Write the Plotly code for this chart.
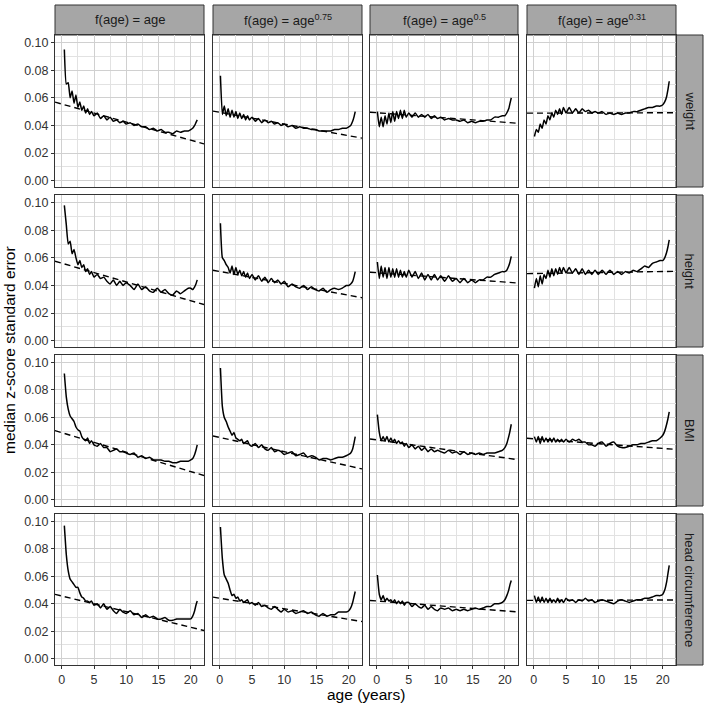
import plotly.graph_objects as go

# ---------------- data ----------------
age = [0.1, 0.4, 0.7, 1.0, 1.3, 1.6, 1.9, 2.2, 2.5, 2.8, 3.1, 3.4, 3.7, 4.0, 4.3, 4.6,
       5.0, 5.5, 6.0, 6.5, 7.0, 7.5, 8.0, 8.5, 9.0, 9.5, 10.0,
       10.6, 11.2, 11.8, 12.4, 13.0, 13.6, 14.2, 14.8, 15.4, 16.0, 16.6, 17.2, 17.8, 18.4, 19.0, 19.6,
       20.0, 20.3, 20.6, 20.8, 21.0]

col_labels = ["f(age) = age", "f(age) = age<sup>0.75</sup>",
              "f(age) = age<sup>0.5</sup>", "f(age) = age<sup>0.31</sup>"]
row_labels = ["weight", "height", "BMI", "head circumference"]

weight_age = [None, 0.095, 0.070, 0.071, 0.060, 0.065, 0.056, 0.062, 0.053, 0.057, 0.051, 0.054, 0.049, 0.052, 0.048, 0.050,
              0.047, 0.049, 0.045, 0.047, 0.044, 0.046, 0.043, 0.044, 0.042, 0.043, 0.041,
              0.042, 0.040, 0.041, 0.039, 0.039, 0.037, 0.038, 0.036, 0.037, 0.035, 0.035, 0.034, 0.036, 0.035, 0.036, 0.036,
              0.037, 0.038, 0.040, 0.042, 0.044]
weight_p075 = [0.076, 0.048, 0.054, 0.047, 0.052, 0.046, 0.051, 0.046, 0.050, 0.045, 0.049, 0.045, 0.048, 0.044, 0.047, 0.044,
               0.046, 0.043, 0.045, 0.042, 0.044, 0.042, 0.043, 0.041, 0.042, 0.040, 0.041,
               0.039, 0.040, 0.038, 0.039, 0.038, 0.038, 0.037, 0.037, 0.036, 0.036, 0.036, 0.036, 0.037, 0.037, 0.038, 0.038,
               0.039, 0.040, 0.043, 0.046, 0.050]
weight_p050 = [0.050, 0.039, 0.046, 0.039, 0.047, 0.041, 0.049, 0.042, 0.050, 0.043, 0.050, 0.045, 0.051, 0.045, 0.051, 0.046,
               0.049, 0.046, 0.049, 0.046, 0.048, 0.046, 0.048, 0.045, 0.047, 0.045, 0.046,
               0.044, 0.045, 0.044, 0.044, 0.043, 0.044, 0.042, 0.043, 0.042, 0.043, 0.043, 0.044, 0.044, 0.046, 0.046, 0.047,
               0.047, 0.049, 0.052, 0.056, 0.060]
weight_p031 = [0.032, 0.037, 0.035, 0.041, 0.038, 0.044, 0.041, 0.047, 0.044, 0.049, 0.046, 0.051, 0.048, 0.052, 0.048, 0.053,
               0.049, 0.053, 0.049, 0.052, 0.049, 0.052, 0.050, 0.051, 0.049, 0.050, 0.049,
               0.050, 0.048, 0.049, 0.048, 0.049, 0.048, 0.049, 0.049, 0.050, 0.050, 0.051, 0.052, 0.053, 0.053, 0.054, 0.054,
               0.055, 0.057, 0.061, 0.066, 0.072]

height_age = [None, 0.098, 0.084, 0.070, 0.072, 0.063, 0.066, 0.060, 0.055, 0.058, 0.053, 0.055, 0.050, 0.052, 0.048, 0.050,
              0.046, 0.048, 0.045, 0.046, 0.043, 0.041, 0.044, 0.040, 0.043, 0.040, 0.042,
              0.040, 0.037, 0.041, 0.037, 0.039, 0.036, 0.035, 0.038, 0.035, 0.037, 0.034, 0.033, 0.036, 0.034, 0.036, 0.038,
              0.038, 0.037, 0.039, 0.041, 0.044]
height_p075 = [0.085, 0.060, 0.058, 0.055, 0.053, 0.049, 0.054, 0.048, 0.053, 0.048, 0.051, 0.047, 0.050, 0.046, 0.049, 0.045,
               0.048, 0.044, 0.047, 0.043, 0.046, 0.042, 0.045, 0.042, 0.044, 0.041, 0.043,
               0.039, 0.041, 0.039, 0.038, 0.040, 0.037, 0.039, 0.037, 0.036, 0.038, 0.035, 0.037, 0.038, 0.037, 0.038, 0.040,
               0.040, 0.041, 0.043, 0.046, 0.050]
height_p050 = [0.057, 0.045, 0.054, 0.046, 0.053, 0.045, 0.053, 0.046, 0.052, 0.046, 0.052, 0.046, 0.051, 0.046, 0.050, 0.046,
               0.051, 0.046, 0.050, 0.045, 0.049, 0.044, 0.048, 0.044, 0.048, 0.044, 0.047,
               0.043, 0.047, 0.043, 0.045, 0.042, 0.045, 0.042, 0.044, 0.042, 0.044, 0.044, 0.046, 0.046, 0.048, 0.049, 0.050,
               0.050, 0.051, 0.054, 0.057, 0.061]
height_p031 = [0.038, 0.045, 0.039, 0.047, 0.041, 0.048, 0.045, 0.051, 0.046, 0.052, 0.047, 0.052, 0.048, 0.053, 0.049, 0.053,
               0.049, 0.053, 0.049, 0.052, 0.048, 0.052, 0.048, 0.051, 0.048, 0.051, 0.048,
               0.051, 0.048, 0.051, 0.048, 0.050, 0.048, 0.050, 0.049, 0.051, 0.050, 0.052, 0.054, 0.053, 0.056, 0.057, 0.058,
               0.058, 0.060, 0.064, 0.068, 0.073]

bmi_age = [None, 0.092, 0.075, 0.066, 0.061, 0.059, 0.057, 0.053, 0.051, 0.050, 0.046, 0.044, 0.043, 0.045, 0.041, 0.043,
           0.040, 0.039, 0.041, 0.038, 0.038, 0.035, 0.036, 0.037, 0.035, 0.035, 0.034,
           0.033, 0.034, 0.031, 0.032, 0.030, 0.031, 0.029, 0.029, 0.029, 0.028, 0.028, 0.027, 0.027, 0.028, 0.028, 0.028,
           0.029, 0.030, 0.033, 0.036, 0.040]
bmi_p075 = [0.096, 0.068, 0.060, 0.057, 0.053, 0.050, 0.047, 0.049, 0.045, 0.044, 0.043, 0.044, 0.041, 0.042, 0.043, 0.040,
            0.039, 0.041, 0.038, 0.040, 0.037, 0.036, 0.038, 0.035, 0.036, 0.035, 0.033,
            0.034, 0.035, 0.032, 0.033, 0.034, 0.031, 0.032, 0.031, 0.029, 0.030, 0.030, 0.029, 0.030, 0.031, 0.031, 0.032,
            0.033, 0.034, 0.037, 0.041, 0.046]
bmi_p050 = [0.062, 0.049, 0.043, 0.046, 0.043, 0.046, 0.042, 0.045, 0.042, 0.044, 0.041, 0.043, 0.041, 0.042, 0.039, 0.041,
            0.038, 0.040, 0.037, 0.039, 0.036, 0.038, 0.035, 0.037, 0.035, 0.036, 0.035,
            0.034, 0.036, 0.034, 0.035, 0.033, 0.035, 0.033, 0.034, 0.033, 0.034, 0.033, 0.034, 0.034, 0.034, 0.035, 0.036,
            0.038, 0.041, 0.046, 0.050, 0.055]
bmi_p031 = [0.046, 0.042, 0.046, 0.041, 0.046, 0.042, 0.045, 0.042, 0.045, 0.042, 0.045, 0.042, 0.044, 0.042, 0.044, 0.042,
            0.044, 0.042, 0.044, 0.043, 0.044, 0.042, 0.042, 0.040, 0.040, 0.039, 0.041,
            0.042, 0.039, 0.041, 0.042, 0.039, 0.038, 0.038, 0.039, 0.040, 0.040, 0.041, 0.041, 0.042, 0.043, 0.043, 0.045,
            0.047, 0.050, 0.055, 0.059, 0.064]

head_age = [None, 0.097, 0.076, 0.064, 0.058, 0.056, 0.054, 0.052, 0.052, 0.048, 0.045, 0.044, 0.042, 0.042, 0.041, 0.042,
            0.039, 0.040, 0.037, 0.040, 0.036, 0.038, 0.035, 0.033, 0.036, 0.034, 0.033,
            0.035, 0.032, 0.033, 0.030, 0.032, 0.030, 0.031, 0.029, 0.029, 0.030, 0.028, 0.028, 0.029, 0.029, 0.029, 0.029,
            0.029, 0.031, 0.035, 0.039, 0.042]
head_p075 = [0.096, 0.073, 0.061, 0.058, 0.055, 0.050, 0.046, 0.047, 0.044, 0.045, 0.042, 0.043, 0.041, 0.042, 0.043, 0.040,
             0.041, 0.039, 0.041, 0.038, 0.039, 0.037, 0.036, 0.038, 0.036, 0.034, 0.036,
             0.034, 0.035, 0.033, 0.034, 0.035, 0.033, 0.034, 0.032, 0.031, 0.033, 0.031, 0.032, 0.032, 0.034, 0.034, 0.034,
             0.035, 0.037, 0.041, 0.045, 0.049]
head_p050 = [0.061, 0.047, 0.043, 0.046, 0.042, 0.044, 0.042, 0.043, 0.041, 0.043, 0.040, 0.042, 0.040, 0.042, 0.039, 0.041,
             0.041, 0.038, 0.040, 0.038, 0.037, 0.039, 0.036, 0.038, 0.036, 0.035, 0.037,
             0.036, 0.037, 0.035, 0.036, 0.035, 0.036, 0.035, 0.036, 0.037, 0.036, 0.037, 0.038, 0.038, 0.040, 0.040, 0.041,
             0.043, 0.046, 0.050, 0.054, 0.057]
head_p031 = [0.046, 0.041, 0.045, 0.041, 0.045, 0.041, 0.044, 0.041, 0.044, 0.041, 0.043, 0.041, 0.044, 0.041, 0.043, 0.041,
             0.044, 0.042, 0.043, 0.041, 0.043, 0.042, 0.044, 0.042, 0.043, 0.041, 0.042,
             0.043, 0.042, 0.041, 0.040, 0.042, 0.043, 0.042, 0.041, 0.042, 0.043, 0.043, 0.044, 0.044, 0.045, 0.046, 0.046,
             0.047, 0.050, 0.056, 0.062, 0.068]

# reference (dashed) lines: intercept at age 0 and slope per year, one per column
weight_intercept = [0.0555, 0.0495, 0.0492, 0.0489]
weight_slope = [-0.00131, -0.000848, -0.000346, 0.000013]
height_intercept = [0.0561, 0.0501, 0.0492, 0.0486]
height_slope = [-0.00136, -0.000861, -0.000338, 0.000074]
bmi_intercept = [0.0489, 0.0454, 0.0436, 0.0444]
bmi_slope = [-0.00142, -0.00104, -0.000654, -0.000351]
head_intercept = [0.0457, 0.0441, 0.0421, 0.0425]
head_slope = [-0.00114, -0.000771, -0.000364, 0.000013]

y_ticks = [0.00, 0.02, 0.04, 0.06, 0.08, 0.10]
x_ticks = [0, 5, 10, 15, 20]

series = [[weight_age, weight_p075, weight_p050, weight_p031],
          [height_age, height_p075, height_p050, height_p031],
          [bmi_age, bmi_p075, bmi_p050, bmi_p031],
          [head_age, head_p075, head_p050, head_p031]]
intercepts = [weight_intercept, height_intercept, bmi_intercept, head_intercept]
slopes = [weight_slope, height_slope, bmi_slope, head_slope]

# ---------------- layout geometry (pixels) ----------------
W = H = 707
col_px = [(55, 204), (213, 362), (370, 518), (527, 676)]
row_px = [(35, 187), (195, 347), (355, 506), (514, 665)]
strip_top = (5, 35)
strip_right = (676, 703)
XR = [-1.05, 22.05]
YR = [-0.0046, 0.1055]

GRID_MAJOR = "#d0d0d0"
GRID_MINOR = "#e2e2e2"
BORDER = "#333333"
STRIP_FILL = "#a6a6a6"
FONT = "Liberation Sans, Arial, Helvetica, sans-serif"

fig = go.Figure()
layout = dict(width=W, height=H, margin=dict(l=0, r=0, t=0, b=0),
              paper_bgcolor="white", plot_bgcolor="white", showlegend=False,
              template="none", font=dict(family=FONT, color="#1a1a1a"))
shapes, annotations = [], []

for r in range(4):
    for c in range(4):
        k = r * 4 + c + 1
        xa = "x" if k == 1 else f"x{k}"
        ya = "y" if k == 1 else f"y{k}"
        x0, x1 = col_px[c]
        y0, y1 = row_px[r]
        xkey = "xaxis" if k == 1 else f"xaxis{k}"
        ykey = "yaxis" if k == 1 else f"yaxis{k}"
        bottom = (r == 3)
        left = (c == 0)
        layout[xkey] = dict(
            domain=[x0 / W, x1 / W], anchor=ya, range=XR, automargin=False,
            tickmode="array", tickvals=x_ticks, showticklabels=bottom,
            ticks="outside" if bottom else "", ticklen=3, tickcolor=BORDER, tickwidth=1,
            tickfont=dict(size=12.5, color="#333333", family=FONT),
            showgrid=True, gridcolor=GRID_MAJOR, gridwidth=1.4,
            minor=dict(tickmode="array", tickvals=[2.5, 7.5, 12.5, 17.5], showgrid=True,
                       gridcolor=GRID_MINOR, gridwidth=0.8, ticks=""),
            zeroline=False, showline=True, mirror=True, linecolor=BORDER, linewidth=1)
        layout[ykey] = dict(
            domain=[1 - y1 / H, 1 - y0 / H], anchor=xa, range=YR, automargin=False,
            tickmode="array", tickvals=y_ticks, tickformat=".2f", showticklabels=left,
            ticks="outside" if left else "", ticklen=3, tickcolor=BORDER, tickwidth=1,
            tickfont=dict(size=12.5, color="#333333", family=FONT),
            showgrid=True, gridcolor=GRID_MAJOR, gridwidth=1.4,
            minor=dict(tickmode="array", tickvals=[0.01, 0.03, 0.05, 0.07, 0.09], showgrid=True,
                       gridcolor=GRID_MINOR, gridwidth=0.8, ticks=""),
            zeroline=False, showline=True, mirror=True, linecolor=BORDER, linewidth=1)

        # dashed reference line across full panel
        a, b = intercepts[r][c], slopes[r][c]
        fig.add_trace(go.Scatter(x=XR, y=[a + b * XR[0], a + b * XR[1]], mode="lines",
                                 line=dict(color="black", width=1.4, dash="6px,4px"),
                                 xaxis=xa, yaxis=ya, hoverinfo="skip", cliponaxis=True))
        # solid median SE curve
        fig.add_trace(go.Scatter(x=age, y=series[r][c], mode="lines",
                                 line=dict(color="black", width=1.5, shape="spline", smoothing=0.4),
                                 xaxis=xa, yaxis=ya, hoverinfo="skip"))

# strips
for c in range(4):
    x0, x1 = col_px[c]
    shapes.append(dict(type="rect", xref="paper", yref="paper",
                       x0=x0 / W, x1=x1 / W, y0=1 - strip_top[1] / H, y1=1 - strip_top[0] / H,
                       fillcolor=STRIP_FILL, line=dict(color=BORDER, width=1), layer="below"))
    annotations.append(dict(text=col_labels[c], xref="paper", yref="paper",
                            x=(x0 + x1) / 2 / W, y=1 - (strip_top[0] + strip_top[1]) / 2 / H,
                            showarrow=False, xanchor="center", yanchor="middle",
                            font=dict(size=13, color="#1a1a1a", family=FONT)))
for r in range(4):
    y0, y1 = row_px[r]
    shapes.append(dict(type="rect", xref="paper", yref="paper",
                       x0=strip_right[0] / W, x1=strip_right[1] / W, y0=1 - y1 / H, y1=1 - y0 / H,
                       fillcolor=STRIP_FILL, line=dict(color=BORDER, width=1), layer="below"))
    annotations.append(dict(text=row_labels[r], xref="paper", yref="paper",
                            x=(strip_right[0] + strip_right[1]) / 2 / W, y=1 - (y0 + y1) / 2 / H,
                            showarrow=False, textangle=90, xanchor="center", yanchor="middle",
                            font=dict(size=13, color="#1a1a1a", family=FONT)))

# axis titles
annotations.append(dict(text="age (years)", xref="paper", yref="paper",
                        x=(55 + 676) / 2 / W, y=1 - 694 / H, showarrow=False,
                        xanchor="center", yanchor="middle",
                        font=dict(size=15.5, color="black", family=FONT)))
annotations.append(dict(text="median z-score standard error", xref="paper", yref="paper",
                        x=9 / W, y=1 - 350 / H, showarrow=False, textangle=-90,
                        xanchor="center", yanchor="middle",
                        font=dict(size=15.5, color="black", family=FONT)))

layout["shapes"] = shapes
layout["annotations"] = annotations
fig.update_layout(**layout)
fig.write_html("out.html", config={"displayModeBar": False},
               post_script="document.body.style.margin='0';document.body.style.padding='0';")
